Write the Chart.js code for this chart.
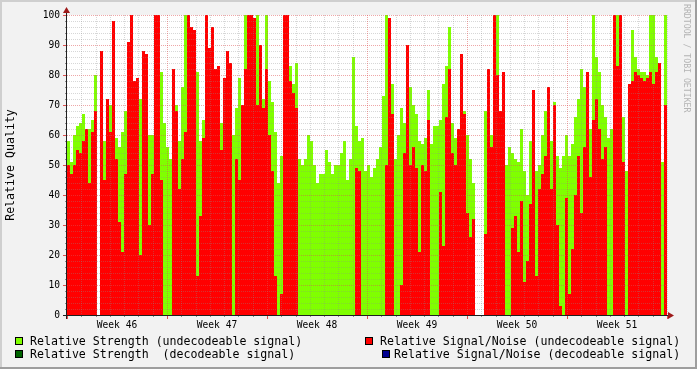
<!DOCTYPE html>
<html>
<head>
<meta charset="utf-8">
<script src="https://cdn.jsdelivr.net/npm/chart.js@4/dist/chart.umd.min.js"></script>
<style>
  html, body { margin: 0; padding: 0; background: #f2f2f2; }
  #wrap { position: relative; width: 697px; height: 369px; font-family: "DejaVu Sans Mono", monospace; }
  #wrap canvas { position: absolute; left: 0; top: 0; }
  .lg { position: absolute; font-size: 11.6px; line-height: 13px; white-space: pre; color: #000; }
  .box { position: absolute; width: 6px; height: 6px; border: 1px solid #000; }
  #credit { position: absolute; left: 682px; top: 4px; font-size: 8.2px; color: #b4b4b4;
            writing-mode: vertical-rl; white-space: pre; letter-spacing: 0; }
</style>
</head>
<body>
<div id="wrap">
  <canvas id="chart" width="697" height="369"></canvas>
  <div class="box" style="left:15px;top:337px;background:#80ff00"></div>
  <div class="lg" style="left:30px;top:335px">Relative Strength (undecodeable signal)</div>
  <div class="box" style="left:15px;top:350px;background:#006400"></div>
  <div class="lg" style="left:30px;top:348px">Relative Strength  (decodeable signal)</div>
  <div class="box" style="left:365px;top:337px;background:#ff0000"></div>
  <div class="lg" style="left:380px;top:335px">Relative Signal/Noise (undecodeable signal)</div>
  <div class="box" style="left:382px;top:350px;background:#000090"></div>
  <div class="lg" style="left:394px;top:348px">Relative Signal/Noise (decodeable signal)</div>
  <div id="credit">RRDTOOL / TOBI OETIKER</div>
</div>
<script>
// six weeks on the x axis, one sample every 0.21 day (200 samples)
const weekLabels = ["Week 46", "Week 47", "Week 48", "Week 49", "Week 50", "Week 51"];
const stepDays = 0.21;

// Relative Strength (undecodeable signal)
const strengthUndec = [
  58, 51, 60, 63, 64, 67, 58, 62, 65, 80, null, 73, 58, 70, 70, 85, 59, 56, 61, 68,
  70, 60, 72, 73, 72, 75, 62, 60, 60, 62, 70, 81, 64, 56, 52, 78, 70, 58, 76, 100,
  86, 85, 80, 81, 58, 65, 60, 57, 53, 60, 60, 64, 67, 70, 75, 60, 69, 79, 70, 100,
  100, 100, 85, 100, 72, 72, 100, 78, 71, 61, 44, 53, 100, 83, 83, 77, 84, 52, 50, 52,
  60, 58, 50, 44, 47, 47, 55, 51, 47, 50, 50, 54, 58, 45, 52, 86, 63, 58, 59, 48,
  50, 46, 49, 52, 56, 73, 100, 84, 77, 52, 60, 69, 64, 75, 76, 70, 67, 58, 57, 59,
  75, 57, 63, 63, 65, 77, 83, 96, 64, 59, 58, 73, 68, 60, 52, 44, null, null, null, 68,
  73, 60, 100, 100, 63, 63, 50, 56, 54, 52, 51, 62, 48, 40, 58, 66, 48, 50, 60, 68,
  66, 58, 71, 53, 49, 53, 60, 53, 57, 66, 72, 82, 76, 74, 62, 100, 86, 81, 70, 66,
  59, 62, 100, 100, 100, 66, 48, 77, 95, 86, 82, 81, 81, 80, 100, 100, 86, 60, 51, 100
];

// Relative Signal/Noise (undecodeable signal)
const snrUndec = [
  50, 47, 50, 55, 54, 58, 62, 44, 61, 68, null, 88, 45, 72, 61, 98, 52, 31, 21, 47,
  91, 100, 78, 79, 20, 88, 87, 30, 47, 100, 100, 45, 0, 0, 0, 82, 68, 42, 52, 61,
  100, 96, 95, 13, 33, 59, 100, 89, 96, 82, 83, 55, 79, 88, 84, 0, 52, 45, 70, 82,
  100, 100, 99, 70, 90, 69, 82, 60, 48, 13, 0, 7, 100, 100, 78, 74, 69, 0, 0, 0,
  0, 0, 0, 0, 0, 0, 0, 0, 0, 0, 0, 0, 0, 0, 0, 0, 49, 48, 0, 0,
  0, 0, 0, 0, 0, 0, 50, 99, 67, 0, 0, 10, 54, 90, 50, 56, 49, 21, 50, 48,
  65, 0, 0, 0, 41, 23, 66, 82, 54, 50, 62, 87, 67, 34, 26, 32, null, null, null, 27,
  82, 56, 100, 80, 68, 81, 0, 0, 29, 33, 21, 38, 11, 18, 37, 75, 13, 42, 47, 53,
  76, 42, 70, 30, 3, 0, 39, 7, 22, 40, 53, 34, 56, 81, 46, 65, 72, 62, 52, 56,
  0, 0, 100, 83, 100, 51, 0, 77, 78, 81, 80, 79, 78, 79, 81, 77, 81, 84, 0, 70
];

// RRD areas are step functions: each sample spans one full step
function toSteps(values) {
  const pts = [];
  values.forEach((v, i) => {
    if (v === null) {
      pts.push({ x: i * stepDays, y: null });
    } else {
      pts.push({ x: i * stepDays, y: v }, { x: (i + 1) * stepDays, y: v });
    }
  });
  return pts;
}

const tickFont = { family: "DejaVu Sans Mono", size: 9.6 };
const minorGrid = "rgba(140,140,140,0.35)";
const majorGrid = "rgba(222,79,79,0.5)";

// background, frame, grid and axes the way rrdtool paints them
const rrdLook = {
  id: "rrdLook",
  beforeDraw(chart) {
    const { ctx, chartArea: a } = chart;
    ctx.save();
    ctx.fillStyle = "#f2f2f2";
    ctx.fillRect(0, 0, chart.width, chart.height);
    ctx.fillStyle = "#cfcfcf";
    ctx.fillRect(0, 0, chart.width, 2);
    ctx.fillRect(0, 0, 2, chart.height);
    ctx.fillStyle = "#9e9e9e";
    ctx.fillRect(0, chart.height - 2, chart.width, 2);
    ctx.fillRect(chart.width - 2, 0, 2, chart.height);
    ctx.fillStyle = "#ffffff";
    ctx.fillRect(a.left, a.top, a.right - a.left, a.bottom - a.top);
    ctx.restore();
  },
  afterDatasetsDraw(chart) {
    const { ctx, chartArea: a, scales: { x, y } } = chart;
    ctx.save();
    ctx.lineWidth = 1;
    ctx.setLineDash([1, 1]);
    // horizontal grid
    for (let v = 2; v <= 100; v += 2) {
      const py = Math.round(y.getPixelForValue(v)) + 0.5;
      ctx.strokeStyle = v % 10 === 0 ? majorGrid : minorGrid;
      ctx.beginPath();
      ctx.moveTo(a.left, py);
      ctx.lineTo(a.right, py);
      ctx.stroke();
    }
    // vertical grid, one line a day, red each week
    for (let d = 1; d <= 42; d++) {
      const px = Math.round(x.getPixelForValue(d)) + 0.5;
      ctx.strokeStyle = (d % 7 === 0 && d < 42) ? majorGrid : minorGrid;
      ctx.beginPath();
      ctx.moveTo(px, a.top);
      ctx.lineTo(px, a.bottom);
      ctx.stroke();
    }
    ctx.setLineDash([]);
    // tick marks
    for (let v = 0; v <= 100; v += 2) {
      const py = Math.round(y.getPixelForValue(v)) + 0.5;
      ctx.strokeStyle = v % 10 === 0 ? "#de4f4f" : "#8c8c8c";
      ctx.beginPath();
      ctx.moveTo(a.left - (v % 10 === 0 ? 4 : 2), py);
      ctx.lineTo(a.left, py);
      ctx.stroke();
    }
    for (let d = 0; d <= 42; d++) {
      const px = Math.round(x.getPixelForValue(d)) + 0.5;
      ctx.strokeStyle = d % 7 === 0 ? "#de4f4f" : "#8c8c8c";
      ctx.beginPath();
      ctx.moveTo(px, a.bottom);
      ctx.lineTo(px, a.bottom + (d % 7 === 0 ? 4 : 2));
      ctx.stroke();
    }
    // axes
    ctx.strokeStyle = "#1f1f1f";
    ctx.beginPath();
    ctx.moveTo(a.left - 4, a.bottom + 0.5);
    ctx.lineTo(a.right + 2, a.bottom + 0.5);
    ctx.moveTo(a.left - 0.5, a.bottom + 4);
    ctx.lineTo(a.left - 0.5, a.top - 2);
    ctx.stroke();
    // arrows
    ctx.fillStyle = "#9e1a1a";
    ctx.beginPath();
    ctx.moveTo(a.right + 1, a.bottom - 3);
    ctx.lineTo(a.right + 7, a.bottom + 0.5);
    ctx.lineTo(a.right + 1, a.bottom + 4);
    ctx.closePath();
    ctx.fill();
    ctx.beginPath();
    ctx.moveTo(a.left - 4, a.top - 2);
    ctx.lineTo(a.left - 0.5, a.top - 8);
    ctx.lineTo(a.left + 3, a.top - 2);
    ctx.closePath();
    ctx.fill();
    ctx.restore();
  }
};

new Chart(document.getElementById("chart"), {
  type: "line",
  data: {
    datasets: [
      {
        label: "Relative Strength (undecodeable signal)",
        data: toSteps(strengthUndec),
        backgroundColor: "#80ff00",
        fill: "origin",
        borderWidth: 0,
        pointRadius: 0,
        order: 2
      },
      {
        label: "Relative Signal/Noise (undecodeable signal)",
        data: toSteps(snrUndec),
        backgroundColor: "#ff0000",
        fill: "origin",
        borderWidth: 0,
        pointRadius: 0,
        order: 1
      }
    ]
  },
  options: {
    responsive: false,
    devicePixelRatio: 1,
    animation: false,
    spanGaps: false,
    layout: { padding: { left: 0, top: 15, right: 30, bottom: 0 } },
    plugins: { legend: { display: false }, tooltip: { enabled: false } },
    scales: {
      x: {
        type: "linear",
        min: 0,
        max: 42,
        grid: { display: false, drawTicks: false },
        border: { display: false },
        afterBuildTicks: scale => {
          scale.ticks = weekLabels.map((_, i) => ({ value: i * 7 + 3.5 }));
        },
        afterFit: scale => { scale.height = 54; },
        ticks: {
          autoSkip: false,
          maxRotation: 0,
          padding: 5,
          color: "#000",
          font: tickFont,
          callback: (v, i) => weekLabels[i]
        }
      },
      y: {
        min: 0,
        max: 100,
        grid: { display: false, drawTicks: false },
        border: { display: false },
        afterFit: scale => { scale.width = 67; },
        ticks: { stepSize: 10, padding: 7, color: "#000", font: tickFont },
        title: {
          display: true,
          text: "Relative Quality",
          color: "#000",
          padding: { top: 4, bottom: 0 },
          font: { family: "DejaVu Sans Mono", size: 11.6 }
        }
      }
    }
  },
  plugins: [rrdLook]
});
</script>
</body>
</html>
